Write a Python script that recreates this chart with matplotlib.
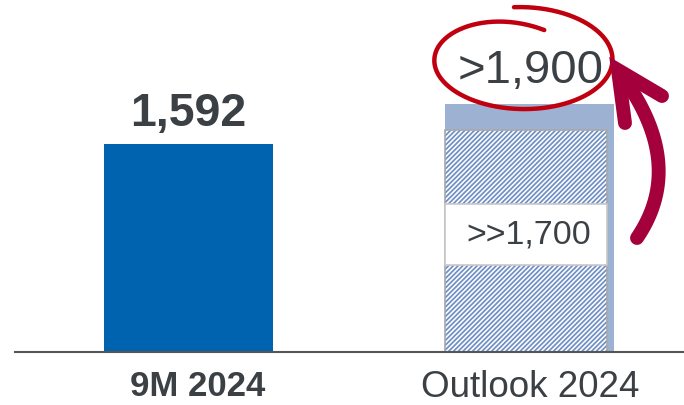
import numpy as np
import matplotlib
matplotlib.use('Agg')
from matplotlib import pyplot as plt
from matplotlib.patches import Rectangle

categories = ['9M 2024', 'Outlook 2024']
actual = [1592]
outlook_base = 1700
outlook_top = 1900
labels = ['1,592', '>1,900', '>>1,700']

plt.rcParams['font.family'] = ['Liberation Sans', 'DejaVu Sans']
plt.rcParams['hatch.linewidth'] = 1.25

W, H = 684, 405
fig = plt.figure(figsize=(W / 100, H / 100), dpi=100)
ax = fig.add_axes([15 / W, 53 / H, 1 - 15 / W, 352 / H])

txt = '#3b4045'
bw = 0.496
x = np.arange(len(categories))

ax.bar(x[0], actual[0], width=bw, color='#0063b0')
# outlook: light band up to top, hatched part below
ax.bar(x[1], outlook_top, width=bw, color='#9db2d2', linewidth=0)
hx = x[1] - bw / 2
hw = bw * 0.96
ax.bar(hx, outlook_base, width=hw, align='edge', color='white',
       edgecolor='#6f8fc5', hatch='///////', linewidth=0)
ax.bar(hx, outlook_base, width=hw, align='edge', fill=False,
       edgecolor='#a8a8a8', linewidth=1.2)
# white label box inside hatched bar
ax.add_patch(Rectangle((hx, 666), hw, 466, facecolor='white',
                       edgecolor='#c8c8c8', linewidth=1.2, zorder=3))
ax.text(x[1], 899, labels[2], ha='center', va='center', fontsize=24.5,
        color=txt, zorder=4)

ax.text(x[0], actual[0] + 230, labels[0], ha='center', va='center',
        fontsize=33.5, fontweight='bold', color=txt)
ax.text(x[1] + 0.005, outlook_top + 250, labels[1], ha='center', va='center',
        fontsize=34, color=txt)

ax.set_xlim(-0.5095, 1.455)
ax.set_ylim(0, 2694)
for s in ['top', 'right', 'left']:
    ax.spines[s].set_visible(False)
ax.spines['bottom'].set_color('#555555')
ax.spines['bottom'].set_linewidth(1.5)
ax.set_yticks([])
ax.set_xticks(x + np.array([0.026, 0.003]))
ax.set_xticklabels(categories, color=txt)
tl = ax.get_xticklabels()
tl[0].set_fontweight('bold')
tl[0].set_fontsize(25)
tl[1].set_fontsize(26.5)
ax.tick_params(axis='x', length=0, pad=13)


def line_px(xs, ys, **kw):
    xs = np.asarray(xs, dtype=float) / W
    ys = 1 - np.asarray(ys, dtype=float) / H
    fig.add_artist(plt.Line2D(xs, ys, transform=fig.transFigure,
                              solid_capstyle='round', **kw))


# hand-drawn red ellipse around >1,900
t0, t1 = np.deg2rad(75), np.deg2rad(455)
t = np.linspace(t0, t1, 300)
s = (t - t0) / (t1 - t0)
rx = 86 + 6 * s
ry = 45 + 8 * s - 14 * np.exp(-(t - t0) / 0.6)
line_px(522 + rx * np.cos(t), 60 - ry * np.sin(t),
        color='#c0000f', linewidth=3.2)

# curved arrow (quadratic bezier shaft + chevron head)
p0, p1, p2 = np.array([637, 238]), np.array([688, 163]), np.array([619, 72])
u = np.linspace(0, 1, 100)[:, None]
shaft = (1 - u) ** 2 * p0 + 2 * u * (1 - u) * p1 + u ** 2 * p2
red2 = '#a3003c'
line_px(shaft[:, 0], shaft[:, 1], color=red2, linewidth=10)
line_px([625, 618, 662], [123, 70, 96], color=red2, linewidth=10,
        solid_joinstyle='miter')

fig.savefig('out.png', dpi=100)
